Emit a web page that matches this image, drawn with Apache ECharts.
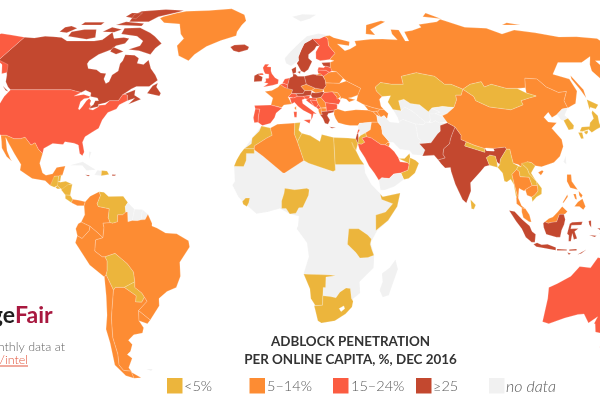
<![CDATA[<!DOCTYPE html>
<html><head><meta charset="utf-8">
<script src="https://cdn.jsdelivr.net/npm/echarts@6/dist/echarts.min.js"></script>
<style>html,body{margin:0;padding:0;background:#fff}#c{width:600px;height:400px}</style>
</head><body><div id="c"></div>
<script>
// Chart values: adblock penetration bin per country
const binLabels = ['<5%', '5–14%', '15–24%', '≥25', 'no data'];
const binColors = ['#ecb53c', '#fd8c33', '#fb5c41', '#c3482f', '#f1f1f1'];
const under5 = ['Kazakhstan','Mongolia','Morocco','Western Sahara','Tunisia','Libya','Egypt','Nigeria','Sierra Leone','Somalia','Tanzania','Namibia','South Africa','Oman','UAE','Jordan','Nepal','Bangladesh','Sri Lanka','Myanmar','Laos','Vietnam','South Korea','Japan','Venezuela','Bolivia','Paraguay','Guatemala','Belize','El Salvador','Honduras','Nicaragua','Costa Rica','Dominican Republic'];
const from5to14 = ['Russia','China','Greenland','Mexico','Panama','Colombia','Ecuador','Peru','Brazil','Chile','Argentina','Uruguay','France','Algeria','Turkey','Iraq','Georgia','Armenia','Azerbaijan','Ukraine','Belarus','Moldova','Czechia','Slovakia','Serbia','Albania','Macedonia','Thailand','Cambodia','Malaysia','Philippines','Kuwait'];
const from15to24 = ['United States','Australia','United Kingdom','Spain','Portugal','Finland','Latvia','Lithuania','Belgium','Netherlands','Switzerland','Italy','Romania','Bulgaria','Slovenia','Croatia','Bosnia','Saudi Arabia','Lebanon','Montenegro'];
const over25 = ['Canada','Iceland','Ireland','Sweden','Denmark','Germany','Poland','Austria','Hungary','Estonia','Greece','India','Pakistan','Indonesia','Jamaica','Puerto Rico','Israel'];
const noData = ['Africa','Norway','Svalbard','Cuba','Haiti','Bahamas','Guyana','Suriname','French Guiana','Falklands','Syria','Yemen','Iran','Turkmenistan','Uzbekistan','Kyrgyzstan','Tajikistan','Afghanistan','North Korea','Taiwan','Madagascar'];
const blank = ['Lesotho','Bhutan'];

// Country outlines: rings of longitude, latitude pairs
const outlines = {
'Africa':[[-17,21.4,-16.5,16,-17.5,14.7,-15,10.5,-13,8.5,-7.5,4.4,-3,5,2,6.3,6,4.3,9.7,3.5,9.3,0,8.8,-1,13,-6,13.8,-11,11.8,-17,14.5,-22.5,17,-29.5,18.4,-34,20,-34.8,25.7,-34,32,-29,32.8,-26,35.5,-24,35,-20,40.5,-15,40.5,-10.5,39,-6,41.5,-1.7,46,2,49.8,7,51.2,11.8,44,10.5,43.2,11.5,39.5,15,37.3,19,37,22,35.5,24,32.5,30,32.5,31,25,31.7,20,32.8,19,30.3,15,32.4,11,33.2,10.2,34.3,11,37.1,8.6,36.9,-2,35.1,-5.9,35.8,-9.7,31.5,-13,27.7]],
'Canada':[[-141,69.6,-135,69.3,-130,70,-125,69.8,-120,69.5,-115,68,-108,68,-100,68,-96,68.5,-94,71.8,-90,69,-85,69.5,-81.5,69,-82,67,-86,66,-87,64.5,-92,62.5,-94.5,60,-94.5,58.8,-92.5,57,-88,56.5,-85,55.3,-82.3,55.1,-82,53,-80,51.3,-78.9,52,-79,54.5,-77,56,-78,58.8,-77.5,60,-78,62.4,-73,62.2,-70,61,-69.5,59,-66,58.5,-64.5,60.3,-61.5,57,-58,54.5,-56,52.5,-59,50.2,-65,50.2,-67,49.3,-70,47.2,-65,49,-64.5,47,-61,45.5,-66,43.7,-64,45.9,-67,45,-67.8,47,-69,47.3,-70,47.3,-71,45,-75,45,-76.5,44.2,-79.5,43.6,-79,42.9,-83,42.1,-82.5,43,-81.7,43.5,-81.5,45,-80,45,-81,46,-84.5,46.5,-85,47.9,-88,48.8,-89.6,48,-93,48.6,-95,49,-123,49,-125,50,-128,52,-130,54.5,-133,57,-137,59,-141,60.3],[-80,73.7,-72,71.5,-68,70,-62,67,-64,65,-65,62.5,-72,64,-78,64.5,-73,66,-73,68,-78,70,-88,71,-89,73.5],[-117,70,-105,68.7,-101,69.5,-105,73,-112,73,-118,72],[-125,72,-120,71.5,-117,73.5,-122,74.5,-125,74],[-90,76.5,-78,76.5,-75,79,-65,81.5,-62,82.5,-75,83.1,-90,82,-92,80],[-96,75,-80,74.5,-80,75.7,-92,76.5],[-117,75,-105,75,-105,76.3,-117,76.3],[-96,79,-88,78,-88,81,-95,81],[-87,65.5,-80,63.7,-83,62.6,-87,63.7],[-59,47.7,-53,46.7,-52.7,47.7,-55.5,50,-55.5,51.5,-57.5,50.5],[-128,50.5,-123.5,48.4,-125,48.7],[-100,72,-93,71.7,-90,73,-97,74]],
'United States':[[-123,49,-95,49,-93,48.6,-89.6,48,-92,46.7,-88,47.3,-84.6,46.5,-85,46,-87,45.7,-88,44.6,-87.7,42,-87,41.7,-86.3,43,-85.5,45,-84.7,45.8,-83.4,45,-83.4,43.8,-82.5,43,-83,42,-83.3,41.7,-81,41.6,-79,42.8,-79,43.3,-76.3,43.5,-75,45,-71,45,-70,47.3,-69,47.3,-67.8,47,-67,45,-70,43.5,-70.7,42,-74,40.7,-75.5,38,-76,35,-78,33.9,-81,32,-81.5,30,-80,26.5,-80.5,25.2,-81.8,26,-83,29,-85,29.7,-89,30.2,-89.5,29.2,-94,29.6,-97.3,27.8,-97.3,26,-99.5,27.5,-101.5,29.8,-103,29,-106.5,31.8,-108.2,31.3,-111,31.3,-114.8,32.5,-117.1,32.5,-120.5,34.5,-122.5,37.5,-124.3,40.5,-124,46.5],[-141,69.6,-150,70.5,-157,71.2,-166,68.5,-162,66.5,-166,65.5,-161,63.5,-165,60.5,-158,58.5,-165,54.8,-155,58,-150,61,-145,60.5,-141,60,-137,58.5,-133,55,-131,55.5,-134,58.5,-137,59.3,-141,60.3]],
'Greenland':[[-73,78.2,-68,76,-58,75.5,-54,71,-51,69,-53,66,-50,62,-44,60,-42,62.5,-37,65.7,-30,68.2,-22,70.2,-22,72,-20,75,-18,77,-20,80,-30,83.5,-45,82.5,-60,82,-65,81,-72,79]],
'Iceland':[[-24,65.5,-22,64,-19,63.4,-14.5,64.4,-14,65.5,-16.5,66.5,-22,66.3]],
'Mexico':[[-117.1,32.5,-114.8,32.5,-111,31.3,-108.2,31.3,-106.5,31.8,-103,29,-101.5,29.8,-99.5,27.5,-97.3,26,-97.8,22.5,-96,19,-94.5,18.2,-91.8,18.7,-90.5,21,-87,21.5,-87.7,18.2,-89,17.9,-91,17.8,-90.5,16,-92.2,14.5,-94.5,16.2,-100,17,-105.5,20,-105.5,22,-109,25.8,-112.5,29.5,-114.7,31.7,-112.5,27,-110.3,24,-109.5,23.2,-112,24.8,-115,28,-116,30.5]],
'Guatemala':[[-92.2,14.5,-91,17.8,-89.2,17.9,-89.2,15.9,-88.2,15.7,-89.3,14.4,-90.5,13.9]],
'Belize':[[-89.2,17.9,-88.2,18.4,-88.3,16,-89.2,15.9]],
'El Salvador':[[-90,13.8,-89.3,14.4,-87.8,13.4,-89,13.3]],
'Honduras':[[-89.2,15.9,-88.2,15.7,-86,16,-83.2,15,-84.5,14.8,-87,13,-87.8,13.4,-89.3,14.4]],
'Nicaragua':[[-87.6,13,-85,14.8,-83.2,15,-83.7,11,-85.7,11.1]],
'Costa Rica':[[-85.7,11.1,-83.7,11,-82.6,9.6,-83,8.3,-85.6,9.9]],
'Panama':[[-83,8.3,-82.6,9.6,-80,9.2,-77.4,8.7,-77.8,7.3,-80.5,7.3]],
'Cuba':[[-85,21.8,-80,23,-74.2,20.2,-78,19.9,-80,21.7]],
'Jamaica':[[-78.3,18.4,-76.3,18.2,-77,17.8]],
'Haiti':[[-74.5,18.3,-71.7,18,-71.7,19.8,-73.5,20]],
'Dominican Republic':[[-71.7,18,-68.5,18.5,-69.5,19.7,-71.7,19.9]],
'Puerto Rico':[[-67.2,18.5,-65.6,18.4,-66,18,-67.2,18]],
'Bahamas':[[-78,26.7,-77,26.5,-77.5,24]],
'Colombia':[[-77.4,8.7,-75.5,10.7,-72,12.3,-71.3,11,-72.5,8,-72,7,-67.5,6.2,-67.8,3,-67,1.2,-69.9,1,-69.5,-0.5,-70,-4.2,-72,-2.5,-75.2,-0.1,-78.8,1.4,-77.4,4,-77.8,7.3]],
'Venezuela':[[-71.3,11,-72,12.3,-70,12.1,-68,10.6,-62,10.7,-60,8.4,-61,7,-60.7,5,-62,4,-64,4,-64,1.5,-66,1,-67,1.2,-67.8,3,-67.5,6.2,-72,7,-72.5,8]],
'Guyana':[[-60,8.4,-57.2,6,-58,2,-59.8,1.5,-60,5,-60.7,5,-61,7]],
'Suriname':[[-57.2,6,-54,5.9,-54.4,2.2,-56,1.9,-58,2]],
'French Guiana':[[-54,5.9,-51.7,4.2,-52.8,2.3,-54.4,2.2]],
'Ecuador':[[-80,0.8,-78.8,1.4,-75.2,-0.1,-75.5,-1.6,-78.5,-4.5,-80.4,-3.5,-81,-1]],
'Peru':[[-80.4,-3.5,-78.5,-4.5,-75.5,-1.6,-75.2,-0.1,-72,-2.5,-70,-4.2,-73,-5,-73.5,-9,-70.6,-11,-69.5,-11,-68.7,-12.5,-69,-16,-69.6,-17.5,-70.4,-18.3,-76,-14,-81.3,-6]],
'Bolivia':[[-69.5,-11,-65.3,-9.8,-60.5,-13.5,-58.2,-16.5,-58,-20,-62.6,-22,-66.3,-22,-67.2,-23,-68.5,-20,-69.6,-17.5,-69,-16,-68.7,-12.5]],
'Paraguay':[[-58,-20,-58.2,-22,-55.5,-24,-54.6,-25.5,-56,-27.3,-58.6,-27.2,-58,-25,-62.6,-22]],
'Chile':[[-70.4,-18.3,-69.6,-17.5,-68.5,-20,-67.2,-23,-70,-33,-71.5,-40,-71.7,-46,-73,-50,-72,-52,-68.5,-52.3,-68.6,-55,-72,-54,-75,-50,-73.5,-42,-73.5,-37,-71.6,-32,-70.5,-25]],
'Argentina':[[-66.3,-22,-62.6,-22,-58,-25,-58.6,-27.2,-56,-27.3,-54.6,-25.5,-53.7,-27,-57.8,-30.3,-58.4,-34,-57,-36.5,-58,-38.4,-62,-39,-65,-41,-63.8,-42.5,-65.5,-45,-67.5,-46.2,-65.8,-47.5,-69,-51,-68.5,-52.3,-72,-52,-73,-50,-71.7,-46,-71.5,-40,-70,-33,-67.2,-23],[-68.6,-52.7,-65,-54.8,-68.6,-55]],
'Uruguay':[[-57.8,-30.3,-53.5,-33.7,-55,-35,-58.4,-34]],
'Brazil':[[-64,4,-62,4,-60.7,5,-60,5,-59.8,1.5,-58,2,-56,1.9,-54.4,2.2,-52.8,2.3,-51.7,4.2,-50,1,-50,0,-48,-0.7,-44.5,-2.5,-40,-2.8,-35.2,-5.3,-34.8,-7.5,-39,-13,-39,-18,-41,-22,-45,-23.5,-48.6,-26,-48.8,-28.6,-53.5,-33.7,-57.8,-30.3,-53.7,-27,-54.6,-25.5,-55.5,-24,-58.2,-22,-58,-20,-58.2,-16.5,-60.5,-13.5,-65.3,-9.8,-69.5,-11,-70.6,-11,-73.5,-9,-73,-5,-70,-4.2,-69.5,-0.5,-69.9,1,-67,1.2,-66,1,-64,1.5]],
'Falklands':[[-61,-51.5,-58,-51.5,-59,-52.3]],
'United Kingdom':[[-5.5,50,-1,50.7,1.4,51.2,1.7,52.7,0,53.5,-1.5,55,-2,56,-2,57.6,-4,57.7,-3,58.6,-5,58.6,-6,57.3,-5.5,56,-4.8,55,-3,54.8,-3,53.3,-4.5,53.2,-4.3,52.2,-5.2,51.7,-3.2,51.3],[-8,54.5,-5.5,54.5,-6,55.2,-7.3,55.2]],
'Ireland':[[-10,52,-6.3,52.2,-6,53.8,-8,54.5,-7.3,55.2,-8.5,54.9,-10,54.2]],
'France':[[-1.8,43.4,-1,46,-4.7,48.4,-1.5,48.7,1.5,50,2.5,51,4.2,50,8.2,49,7.6,47.6,6,46.3,7.5,43.8,4,43.4,3,42.5],[8.6,42.3,9.5,43,9.4,41.5]],
'Spain':[[-9.2,43.2,-1.8,43.4,3.2,42.3,0.5,40.5,-0.2,38.8,-2,36.8,-5.5,36,-7.4,37.2,-7.3,39.5,-6.8,41.9,-8.8,42]],
'Portugal':[[-8.8,42,-6.8,41.9,-7.3,39.5,-7.4,37.2,-9,37,-9.5,38.8]],
'Belgium':[[2.5,51,4.2,51.4,6,50.8,5.8,49.5,4.2,50]],
'Netherlands':[[3.5,51.4,4.7,53,7,53.4,6,50.8,4.2,51.4]],
'Germany':[[6,50.8,7,53.4,8.7,54,8.7,54.9,10,54.8,11,54,14.2,54,14.8,51,12.2,50.3,13.8,48.7,13,47.6,7.6,47.6,8.2,49,5.8,49.5]],
'Denmark':[[8.7,54.9,8.2,56.7,10.5,57.7,10.3,55.5],[11,55.7,12.5,56,12.2,55]],
'Switzerland':[[6,46.3,7.6,47.6,9.6,47.5,10.4,46.6,8.5,46]],
'Austria':[[9.6,47.5,13,47.6,13.8,48.7,17,48.7,16.5,47,13,46.6,10.4,46.6]],
'Czechia':[[12.2,50.3,14.8,51,18.8,49.6,17,48.7,13.8,48.7]],
'Slovakia':[[17,48.7,18.8,49.6,22.5,49.1,22,48.3,18.8,47.8]],
'Poland':[[14.2,54,18.5,54.8,23,54.3,24,52.5,24,50.5,22.5,49.1,18.8,49.6,14.8,51]],
'Hungary':[[16.5,47,17,48,18.8,47.8,22,48.3,22.8,48,21,46.2,18.8,45.9,17,46]],
'Italy':[[7.5,43.8,6.8,46,8.5,46,10.4,46.6,13,46.6,13.7,45.7,12.3,45.3,12.5,44,16,41.8,18.4,40.2,17,40.3,16.5,39,15.8,38,16,40,12.5,41.5,10.3,43,8.8,44.4],[12.5,38,15.6,38.2,15,36.7],[8.3,41,9.7,41,9.5,39,8.5,39]],
'Slovenia':[[13.7,45.7,13,46.6,16,46.8,15.5,45.5]],
'Croatia':[[14,45.2,15.7,46,17,46,18.8,45.9,19,45,16,45.2,17.5,43,15,44.5]],
'Bosnia':[[16,45.2,19,45,19.5,43.6,18.5,42.5,17.5,43]],
'Serbia':[[18.8,45.9,21,46.2,22.7,44.3,22.9,42.5,20.5,42.3,19.5,43.6,19,45]],
'Montenegro':[[18.5,42.5,19.5,43.6,20.5,42.3,19.3,41.9]],
'Macedonia':[[20.5,41,20.5,42.3,22.9,42.2,22.8,41.2]],
'Albania':[[19.3,41.9,20.5,42.3,20.5,41,20.9,40,19.8,40,19.4,41]],
'Greece':[[19.8,40,20.9,40,20.5,41,22.8,41.2,26.3,41.6,26,40.8,23.5,40.3,23,39.5,24,38,23,36.5,21.7,36.8,21,38.5],[23.5,35.6,26.3,35.2,24.5,35]],
'Bulgaria':[[22.7,44.3,28,43.7,27.7,42,26.3,41.6,22.8,41.2,22.9,42.5]],
'Romania':[[22.8,48,26.6,48.3,28.2,46.5,29.7,45,28.7,43.7,22.7,44.3,21,46.2]],
'Moldova':[[26.6,48.3,29,47.9,30,46.4,28.2,45.5,28.2,46.5]],
'Ukraine':[[22.5,49.1,24,50.5,24,51.6,30.5,51.4,34,52.3,40,49.6,38.2,47.1,35,46.2,33.5,46,36.5,45.3,33.5,44.5,32.5,45.5,30.5,46,29.7,45.3,30,46.4,29,47.9,26.6,48.3,22.8,48]],
'Belarus':[[24,51.6,24,52.5,23.3,54,26.5,55.6,30,55.8,32.7,53.3,30.5,51.4]],
'Lithuania':[[21,55.2,21,56.4,25,56.3,26.5,55.6,23.5,54,23,54.3]],
'Latvia':[[21,56.4,21.7,57.5,24.3,57.3,25,58,28,57.3,28,56,26.5,55.6,25,56.3]],
'Estonia':[[23.5,59.2,28,59.4,27.5,57.5,25,58,24.3,58]],
'Finland':[[21,60.8,23,60,28,60.5,30,62,31.5,62.9,29,66,29.5,69,28,70,25,69,21,69,24,66,21.5,63.5]],
'Sweden':[[11,59,12.8,56,14.3,55.5,16.4,56.6,18.8,59.7,17.2,61,17.5,62.5,21,64.5,22.3,65.8,24,66,21,69,20,68.5,16,67,14,64.5,12,61.5,12,60]],
'Norway':[[5,61,5.5,59,8,58,10.7,59.3,11,59,12,60,12,61.5,14,64.5,16,67,20,68.5,21,69,25,69,28,70,31,70.3,25,71.2,18,70,13,67,8,63.5]],
'Svalbard':[[11,79,16,76.7,22,78,27,80,18,80.3]],
'Russia':[[28,70,31,70.3,33,69.4,41,67.7,40,66,34,66.7,37,64,40,64.7,44,66.2,44,68,53,68.7,60,68.8,68,68.5,67,71,68,73,72.5,72.8,72,68,74,68,75,72,80,72.5,87,74,87,75.2,100,76.5,104,77.7,113,74,113,73.7,125,73.5,130,71,140,72.7,150,71.5,160,69.7,170,69.8,180,69,180,65.1,178,64.5,179,62.5,170,60,163,60,163,57.5,162,55.5,156.7,51,155.5,56,158,58.5,163,61.7,155,59.3,143,59.3,135,54.8,141,53,140,48.5,135.5,44,130.7,42.3,131,45,135,48.4,131,48,127,50,125.5,53,120,53.3,117,49.7,113,49.5,108,49.5,102,51,98,50,98,52,92,51,87.5,49.2,83,51,80,51,77,54,71,55,69,55.4,61,54,60.5,51,55,51,50,51.7,47,50,47,48.5,49,46.5,47.5,45.5,47.5,43,48.5,41.8,46.5,41.9,43.5,42.5,40,43.5,37,45,38,47,38.2,47.1,40,49.6,34,52.3,32.7,53.3,30,55.8,28,56,27.5,57.5,28,59.4,30,60,28,60.5,30,62,31.5,62.9,29,66,29.5,69],[52,71,57,70.5,56,73,68,76.5,66,77,55,75],[142,46,143.5,49,143,54.3,142,53,142,49],[95,79,105,78,100,81],[137,75,148,75,142,76],[20,54.4,22.8,54.4,22,55.2]],
'Turkey':[[26,40,26.3,41.6,28,42,31,41.2,36,41.7,41.5,41.5,43.5,41,44.7,39.7,44.8,37.2,42,37.2,36.7,36.8,36,36,32.5,36,30.5,36.3,27.5,37,26.5,38.5]],
'Georgia':[[40,43.5,43.5,42.5,46.5,41.9,46,41.2,43.5,41,41.5,41.5]],
'Armenia':[[43.5,41,45,41.2,46.5,39,44.8,39.7]],
'Azerbaijan':[[45,41.2,46,41.2,46.5,41.9,48.5,41.8,50,40.3,49,38.4,48,39.6,46.5,39]],
'Syria':[[36,36,36.7,36.8,42,37.2,41,34.5,38.8,33.4,36.5,32.4,35.8,34.8]],
'Iraq':[[42,37.2,44.8,37.2,46,35.7,46,33,48.5,30,47.7,30,46.5,29.1,44.7,29.2,41,31.5,39,32,38.8,33.4,41,34.5]],
'Jordan':[[36.5,32.4,38.8,33.4,39,32,37,31.5,38,30,36.5,29.3,35,29.5,35.5,31.5]],
'Israel':[[34.3,31.3,35.1,33.1,35.6,33.2,35.5,31.5,35,29.5]],
'Lebanon':[[35.1,33.1,35.8,34.6,36.5,34.5,35.6,33.2]],
'Saudi Arabia':[[35,29.5,36.5,29.3,38,30,37,31.5,39,32,41,31.5,44.7,29.2,46.5,29.1,48,28.5,50,26.7,51.5,24.5,52,23,55.2,22.7,55.7,22,55,20,52,19,49,18.6,47,17,44,17.3,43.2,16.7,42.7,16.4,41,19,39,21.5,37.5,24.5,35.5,27.5]],
'Kuwait':[[46.5,29.1,47.7,30,48.5,29.7,48,28.5]],
'UAE':[[51.5,24.2,55.2,22.7,55.7,22,56.4,24.9,56.3,26,54,24.2]],
'Oman':[[55.7,22,56.4,24.5,58.5,23.6,59.8,22.5,57.8,19,55,17,53,16.7,52,19,55,20]],
'Yemen':[[43.2,12.8,45,12.9,49,14.2,53,16.7,52,19,49,18.6,47,17,44,17.3,42.7,16.4]],
'Iran':[[44.8,39.7,46.5,39,48,39.6,49,38.4,50,37.3,54,36.9,54,37.5,56,38.2,61,36.6,61,34.5,60.8,31.5,61.8,30.8,61,29.5,63,27.2,63,25.2,57.5,25.6,56.5,27.1,52.5,27.5,50,30,48.5,30,46,33,46,35.7,44.8,37.2]],
'Turkmenistan':[[52.5,41.8,56,41.3,58,42.7,61,41.2,65.5,37.3,64.5,36.3,61,36.6,56,38.2,54,37.5,53.8,39]],
'Uzbekistan':[[56,41.3,56,45,58.6,45.5,61,44,65,43.5,68,41,70,42.3,73.2,40.8,70.7,40.3,68,38.2,67,37.3,65.5,37.3,61,41.2,58,42.7]],
'Kazakhstan':[[47,50,50,51.7,55,51,60.5,51,61,54,69,55.4,71,55,77,54,80,51,83,51,87.5,49.2,85.5,47,83,47,82.5,45.3,80,42.5,75,42.9,70,42.3,68,41,65,43.5,61,44,58.6,45.5,56,45,56,41.3,52.5,41.8,51,44.5,53,46.8,49,46.5,47,48.5]],
'Kyrgyzstan':[[70,42.3,75,42.9,80,42.5,76,40.3,73.2,39.5,70.7,40.3,73.2,40.8]],
'Tajikistan':[[67.5,37.3,68,38.2,68,40.2,70.7,40.3,73.2,39.5,75,37.5,71.5,36.9,70,37.7,68,37]],
'Afghanistan':[[61,36.6,64.5,36.3,65.5,37.3,68,37,70,37.7,71.5,36.9,75,37,71.5,36,71,34,69.5,33,66,29.8,61,29.5,61.8,30.8,60.8,31.5,61,34.5]],
'Pakistan':[[61,29.5,66,29.8,69.5,33,71,34,71.5,36,75,37,77.8,35.5,75.5,32.5,74.5,31,73.8,29.5,71,27.7,70.3,25.7,71,24.4,68,23.7,66.5,25.4,61.6,25.1,63,27.2]],
'India':[[68,23.7,71,24.4,70.3,25.7,71,27.7,73.8,29.5,74.5,31,75.5,32.5,77.8,35.5,79.5,32.5,79,31,81,30.2,80,28.7,88,26.4,88.2,27.8,89,27,92,26.9,91.7,27.8,97,28.3,97.3,27.5,94,24,93.3,22,92.3,23,92,25,89.8,25.4,88.2,24.5,89,21.8,87,21.3,85,19.5,80.3,15.5,80.2,12.5,78,8.2,76.5,9.5,74,15,72.8,19.5,72.7,21,70.5,20.8,69,22.3]],
'Bangladesh':[[88.2,24.5,89.8,25.4,92,25,92.3,23,92.3,21,89,21.8]],
'Nepal':[[80,28.7,81,30.2,84,29,88.2,27.8,88,26.4]],
'Bhutan':[[88.8,27.1,89,28,91.7,27.8,92,26.9]],
'Sri Lanka':[[79.8,9.5,81.8,7.5,81,6,80,6.2]],
'China':[[73.6,39.5,76,40.3,80,42.5,82.5,45.3,83,47,85.5,47,87.5,49.2,91,46.5,91,45,96,42.7,105,41.7,111.5,43.5,111.5,45,116,46,119.7,46.7,116,47.8,117,49.7,120,53.3,125.5,53,127,50,131,48,135,48.4,131,45,130.7,42.3,128,42,124.3,40,121.5,38.9,121,40.8,118,39,119,37.3,122.5,37,119.3,35,121.8,31,121.5,28.5,119,25,116,22.8,110.5,21.2,108,21.6,106.7,22.7,105,23,102,21.2,101,22,99,22.5,98.7,25,98.7,27.5,97.3,27.5,97,28.3,91.7,27.8,89,28,88.2,27.8,84,29,81,30.2,79,31,79.5,32.5,77.8,35.5,75,37],[108.7,19.2,110.5,20,111,19.5,109.7,18.2]],
'Taiwan':[[120,23,121.5,25.2,121,22]],
'Mongolia':[[87.5,49.2,92,51,98,52,98,50,102,51,108,49.5,113,49.5,116,47.8,119.7,46.7,116,46,111.5,45,111.5,43.5,105,41.7,96,42.7,91,45,91,46.5]],
'North Korea':[[124.3,40,128,42,130.7,42.3,127.5,39.7,128.3,38.6,126,37.8,125,38]],
'South Korea':[[126,37.8,128.3,38.6,129.4,36,128.5,34.8,126.3,34.4]],
'Japan':[[130.9,34,132.5,35.5,136,35.7,137,37,139.5,38.5,140,40.5,141,41.4,142,39.5,141,37,140.8,35.5,138.5,34.7,135.8,33.5,135,34.6,132,33.9],[130,33.5,131.7,33.5,131.3,31.4,130.2,31.3],[132.5,33.8,134.5,34.2,134,33.3,133,32.8],[140,41.7,141.7,45.4,145.3,43.5,143,42,141,42.6]],
'Myanmar':[[92.3,21,93.3,22,94,24,97.3,27.5,98.7,27.5,98.7,25,99,22.5,101,21.5,100,20.3,97.8,18.5,98.2,15,99,11,98.5,10,98,15,97,16.8,95.3,15.8,94.3,16,94,19]],
'Thailand':[[97.8,18.5,100,20.3,101,19.5,101,17.7,104.7,17.5,105.5,14.5,102.5,13,102,12.5,101,13,100,13.5,99.3,10,100.5,7.3,102,6.2,100.5,6.5,98.5,8,98.5,10,99,11,98.2,15]],
'Laos':[[100,20.3,101,21.5,102,21.2,102.5,22.4,104.5,20.5,105,18.7,107.5,16,107.6,14.5,105.5,14.5,104.7,17.5,101,17.7,101,19.5]],
'Vietnam':[[102.5,22.4,105,23,106.7,22.7,108,21.6,105.8,19,107,16.8,109.3,13.5,109,11.5,106.8,10.4,105,8.7,104.8,10.4,106,11,107.6,12.5,107.6,14.5,107.5,16,105,18.7,104.5,20.5]],
'Cambodia':[[102.5,13,105.5,14.5,107.6,14.5,107.6,12.5,106,11,104.8,10.4,103,11]],
'Malaysia':[[100.5,6.5,102,6.2,103.5,4,104.2,1.4,103.3,1.5,101,3,100.4,5],[109.7,1.5,111.4,2.7,113,3.2,115,5,117,7,119,5.2,118,4.3,117.5,4.2,115.7,4.2,114.5,1.5,112.5,1.3,111,1]],
'Indonesia':[[95.3,5.6,97.5,5.2,100.5,2.3,103.5,0,104.5,-2,106,-3,105.8,-5.8,104.5,-5.8,102,-4,100.3,-1,98,1.7],[105.3,-6.5,106.7,-6,108.6,-6.7,111,-6.5,114.5,-7.7,114.5,-8.7,110,-8,106.5,-7.4],[109,1,109.7,1.5,111,1,112.5,1.3,114.5,1.5,115.7,4.2,117.5,4.2,118,2.3,117.5,0.5,116.5,-1.5,116,-4,114.5,-4,110.3,-3,109.2,-0.5],[119.8,0.8,120.8,1.3,125,1.5,124.5,0.4,120.5,0.3,120.2,-1,123.3,-0.9,121.8,-2,122.9,-4.5,121.6,-4.8,120.9,-2.7,120.4,-5.5,119.5,-5.5,119.5,-3.3,118.8,-2.8],[115,-8.2,119,-8.4,119,-8.8,115,-8.8],[120,-8.4,123,-8.2,123,-8.8,120,-8.9],[123.5,-10.2,127,-8.4,125,-9.9],[119.3,-9.5,120.8,-9.9,120,-10.3],[127.5,1.8,128.5,2,128.5,-0.5,127.7,0.5],[127.8,-3.2,130.8,-3.5,130,-3.9],[131,-0.8,134,-0.8,135,-3.3,138,-1.7,141,-2.6,141,-9.1,138,-8.3,138,-7,135,-4.4,133,-4,132,-2.8,133.5,-2.3]],
'Philippines':[[120.5,18.5,122.2,18.5,122,16,124,13,121,13.7,120,16],[122,7,123.5,8.6,125.5,9.8,126.5,7,125.5,5.8,124,7],[122,11.5,123,11.5,123.2,9.5,122.5,9.7],[124.3,12.5,125.7,11,125,10,124.3,11],[117.3,8.4,119.5,11.3,119.6,10.5,117.7,8.3]],
'Australia':[[113.7,-22,114.2,-26,115,-34.3,118,-35,124,-33,129,-31.7,131.5,-31.5,135,-34.8,137.8,-32.5,137.5,-35,138,-35,140,-38,146,-39,150,-37.5,153,-32,153.5,-25.5,149,-20,146,-18.5,145.3,-15,142.5,-10.8,141,-16,139,-17.5,135.5,-15,136.8,-12.3,132,-11.3,129.5,-15,125,-14.5,122,-18,117,-20.6],[144.8,-40.7,148.3,-40.9,147,-43.5,146,-43.5]],
'Morocco':[[-5.9,35.8,-2,35.1,-1.2,32.5,-3.5,31.5,-8.7,28.7,-8.7,27.7,-13,27.7,-10,29.5,-9.7,31.5,-6.8,34]],
'Western Sahara':[[-13,27.7,-8.7,27.7,-8.7,26,-12,26,-12,23.5,-13,21.3,-17,21.4,-16,23.7,-14.5,26]],
'Algeria':[[-2,35.1,1,36.5,8.6,36.9,8.3,33,9.5,30.2,12,23.5,4,19,3.3,19,-5,25,-8.7,27.3,-8.7,28.7,-3.5,31.5,-1.2,32.5]],
'Tunisia':[[8.6,36.9,11,37.1,10.2,34.3,11.5,33.2,9.5,30.2,8.3,33]],
'Libya':[[11.5,33.2,15,32.4,19,30.3,20,32.8,25,31.7,25,20,24,19.5,14,22.5,12,23.5,9.5,30.2]],
'Egypt':[[25,31.7,31,31.5,34.3,31.3,35,29.5,34,27,33,28.2,32.5,30,35.5,24,37,22,25,22]],
'Nigeria':[[2.7,6.3,4.5,6.3,6,4.3,8.5,4.6,9.7,6.5,11.3,6.6,13.7,11,14,13.1,13,13.5,10,13.2,8,13,4,13.5,3.7,11.7,2.7,9]],
'Sierra Leone':[[-13.3,8.8,-12,10,-10.3,10,-10.7,8.3,-11.5,7,-13,7.8]],
'Somalia':[[41,-1.6,41,3.9,45,5,48,8,43.5,9.5,43,11.5,44,10.5,51.2,11.8,49.8,7,46,2]],
'Tanzania':[[30,-1,34,-1,37.7,-3.2,39.2,-4.7,38.8,-6.5,39.5,-8.5,40.4,-10.5,38,-11.3,34.7,-11.5,33,-9.5,29.5,-6.5]],
'Namibia':[[11.8,-17.2,13.5,-17.3,18,-17.4,23,-17.6,25,-17.8,21,-18.3,21,-22,20,-22,20,-28.4,17,-28.5,15,-26,14.5,-22.5]],
'South Africa':[[16.5,-28.6,20,-28.4,20,-25,23,-25.3,25.5,-25.7,27,-23.7,29.5,-22.2,31.3,-22.4,32,-26,32.8,-27,32.5,-29,30,-31.5,25.7,-34,20,-34.8,18.4,-34,17,-30]],
'Lesotho':[[27.2,-29.6,29,-28.7,29.4,-29.7,28,-30.6]],
'Madagascar':[[49.3,-12,50.5,-15.5,47.5,-24.8,45,-25.5,43.5,-23,44.5,-20,44,-17,47,-15]]
};

// Robinson projection table
const robX = [1,.9986,.9954,.99,.9822,.973,.96,.9427,.9216,.8962,.8679,.835,.7986,.7597,.7186,.6732,.6213,.5722,.5322];
const robY = [0,.062,.124,.186,.248,.31,.372,.434,.4958,.5571,.6176,.6769,.7346,.7903,.8435,.8936,.9394,.9761,1];
const cx = 275, cy = 226, sx = 141, sy = 225;
function lerp(tab, a){ const i=Math.min(17,Math.floor(a/5)); const t=a/5-i; return tab[i]+(tab[i+1]-tab[i])*t; }
const projection = {
  project(p){ const a=Math.min(90,Math.abs(p[1])); const s=p[1]<0?-1:1;
    return [cx+sx*lerp(robX,a)*p[0]*Math.PI/180, cy-s*sy*lerp(robY,a)]; },
  unproject(q){ const v=Math.abs(cy-q[1])/sy; let i=0; while(i<17&&robY[i+1]<v)i++;
    const a=5*(i+(v-robY[i])/(robY[i+1]-robY[i])); const s=q[1]>cy?-1:1;
    return [(q[0]-cx)/(sx*lerp(robX,Math.min(90,a)))*180/Math.PI, s*a]; }
};
const latAt = y => projection.unproject([cx,y])[1];
const lonAt = x => (x-cx)/sx*180/Math.PI;
// ECharts samples the box's left side only at its corners, so the west limit is set at the bottom corner
const bounds = [[projection.unproject([20,380])[0],latAt(20)],[lonAt(580),latAt(380)]];

const geojson = {type:'FeatureCollection',features:Object.keys(outlines).map(name=>({
  type:'Feature',properties:{name},
  geometry:{type:'MultiPolygon',coordinates:outlines[name].map(r=>{
    const ring=[];for(let i=0;i<r.length;i+=2)ring.push([r[i],r[i+1]]);ring.push([r[0],r[1]]);return [ring];})}
}))};
echarts.registerMap('world',geojson);

const bins=[under5,from5to14,from15to24,over25,noData];
const data=[];
bins.forEach((list,b)=>list.forEach(name=>data.push({name,value:b,itemStyle:{areaColor:binColors[b]}})));
blank.forEach(name=>data.push({name,value:-1,itemStyle:{areaColor:'#ffffff',borderColor:'#ffffff'}}));

const FONT='Lato';
const legendX=[167,249.5,333,416,489];
const legendLabelX=[184,267,351,433,506];
const graphic=[];
function label(x,y,text,fill,font,align){
  graphic.push({type:'text',silent:true,style:{x,y,text,fill,font,align:align||'left',verticalAlign:'middle'}});
}
binColors.forEach((c,i)=>{
  graphic.push({type:'rect',shape:{x:legendX[i],y:378,width:15.5,height:15.5},style:{fill:c},silent:true});
  label(legendLabelX[i],386.5,binLabels[i],'#5a5a5a',i===4?'italic 300 16px '+FONT:'300 14.5px '+FONT);
});
const titleLines=['ADBLOCK PENETRATION','PER ONLINE CAPITA, %, DEC 2016'];
titleLines.forEach((t,i)=>label(350.5,342+i*17.5,t,'#333333','bold 13.4px '+FONT,'center'));
label(15,316,'Page','#1e1e1e','bold 23px '+FONT,'right');
label(15,316,'Fair','#a8183f','bold 23px '+FONT,'left');
label(65,347,'Free monthly data at','#666666','300 12.5px '+FONT,'right');
label(28,360,'pagefair.com/intel','#e2553c','300 12.5px '+FONT,'right');
graphic.push({type:'rect',shape:{x:0,y:365.5,width:28,height:1},style:{fill:'#e2553c'},silent:true});

const chart=echarts.init(document.getElementById('c'),null,{renderer:'canvas'});
chart.setOption({
  animation:false,backgroundColor:'#ffffff',
  series:[{type:'map',map:'world',projection,boundingCoords:bounds,
    layoutCenter:['50%','50%'],layoutSize:560,roam:false,silent:true,
    label:{show:false},emphasis:{disabled:true},select:{disabled:true},
    itemStyle:{areaColor:binColors[4],borderColor:'rgba(255,255,255,0.4)',borderWidth:0.5},
    data}],
  graphic
});
</script></body></html>]]>
